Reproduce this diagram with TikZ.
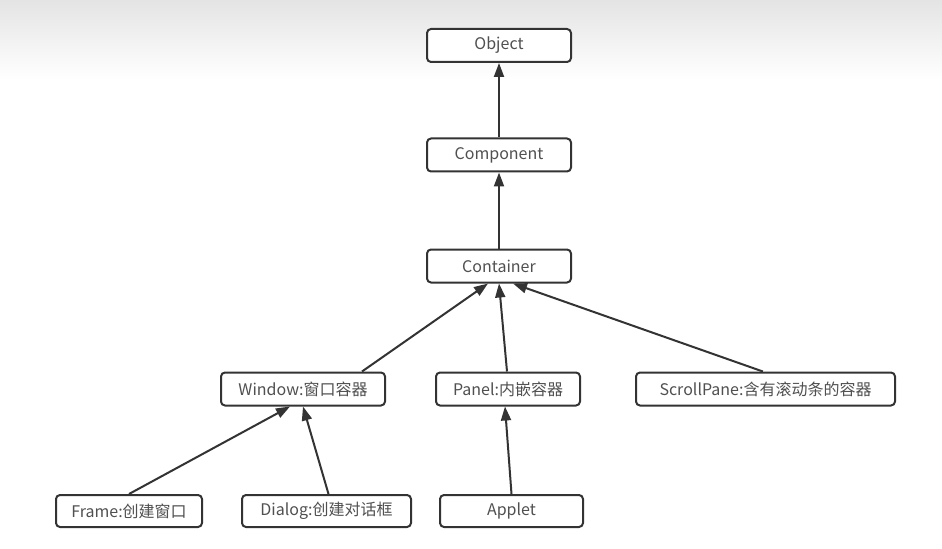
\documentclass[tikz,border=0pt]{standalone}
\usepackage{fontspec}
\newfontfamily\cjk{Noto Sans CJK SC}
\usetikzlibrary{arrows.meta}
\definecolor{UmlLine}{HTML}{333333}
\definecolor{UmlText}{HTML}{505050}
\definecolor{ShotGray}{HTML}{E4E4E4}
\tikzset{
  classbox/.style={rounded corners=3pt,draw=UmlLine,line width=1.5pt,fill=white,
    minimum height=24.75pt,inner sep=0pt,text=UmlText,font=\cjk\fontsize{12pt}{14pt}\selectfont},
  inherit/.style={draw=UmlLine,line width=1.5pt,-{Triangle[length=10.5pt,width=7.5pt]}}
}

\begin{document}
\begin{tikzpicture}[x=0.75pt,y=-0.75pt]
    \useasboundingbox (0,0) rectangle (942,549);
    % screenshot shadow at the top
    \shade[top color=ShotGray,bottom color=white] (0,0) rectangle (942,80);
    % top of the hierarchy
    \node[classbox,minimum width=108pt] (obj) at (499,45.5) {Object};
    \node[classbox,minimum width=108pt] (comp) at (499,155) {Component};
    \node[classbox,minimum width=108pt] (cont) at (499,266) {Container};
    % containers
    \node[classbox,minimum width=123pt] (win) at (303,389) {Window:窗口容器};
    \node[classbox,minimum width=108pt] (pan) at (508,389) {Panel:内嵌容器};
    \node[classbox,minimum width=194.25pt] (scr) at (765.5,389) {ScrollPane:含有滚动条的容器};
    % leaves
    \node[classbox,minimum width=109.5pt,minimum height=24pt] (frm) at (129,511) {Frame:创建窗口};
    \node[classbox,minimum width=126.75pt,minimum height=24pt] (dlg) at (326.5,511) {Dialog:创建对话框};
    \node[classbox,minimum width=107.25pt,minimum height=24pt] (app) at (511.5,511) {Applet};
    % inheritance arrows
    \draw[inherit] (comp) -- (obj);
    \draw[inherit] (cont) -- (comp);
    \draw[inherit] ([xshift=44.25pt]win.north) -- ([xshift=-8.25pt]cont.south);
    \draw[inherit] ([xshift=-0.75pt]pan.north) -- (cont.south);
    \draw[inherit] ([xshift=-2pt]scr.north) -- ([xshift=10.5pt]cont.south);
    \draw[inherit] (frm.north) -- ([xshift=-9.75pt]win.south);
    \draw[inherit] ([xshift=1.5pt]dlg.north) -- (win.south);
    \draw[inherit] (app.north) -- ([xshift=-2.25pt]pan.south);
\end{tikzpicture}
\end{document}
